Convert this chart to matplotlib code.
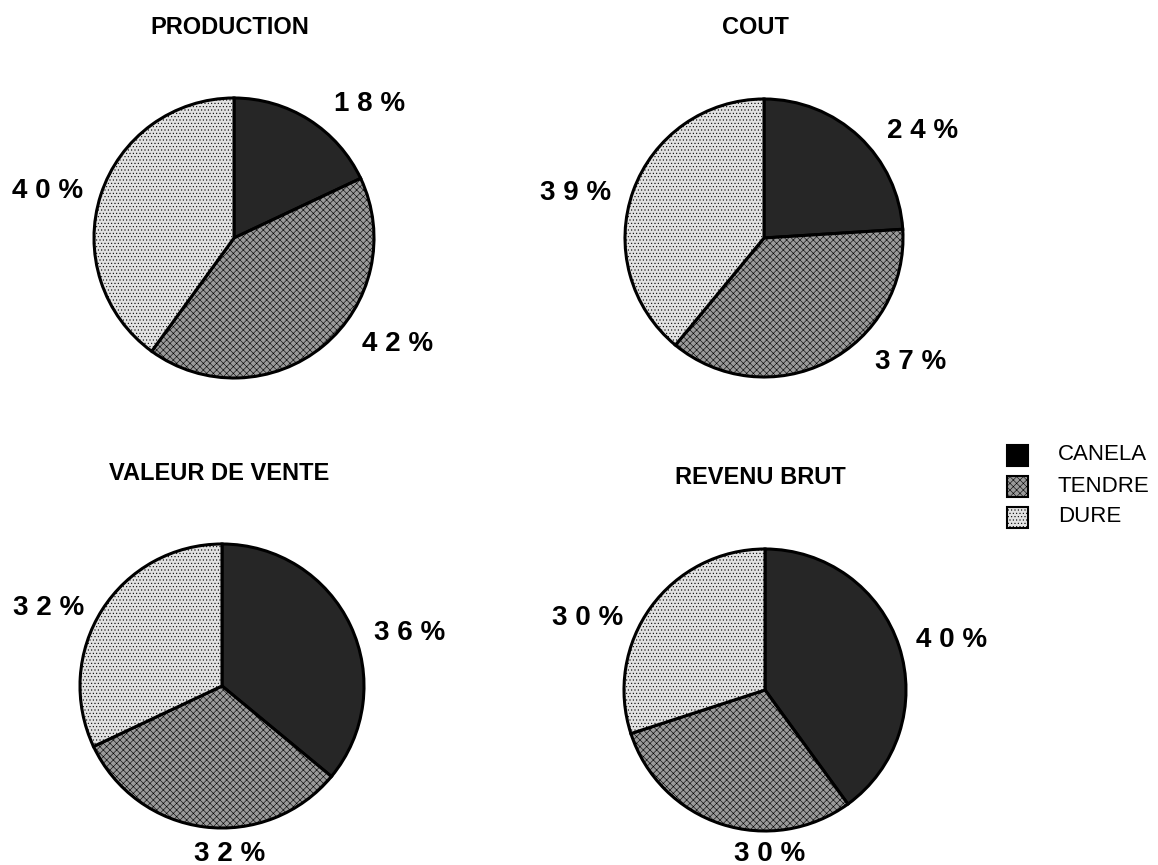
import matplotlib
matplotlib.use("Agg")
import matplotlib.pyplot as plt
from matplotlib.patches import Rectangle

# -------------------------------------------------
# data
# -------------------------------------------------
categories = ["CANELA", "TENDRE", "DURE"]
titles = ["PRODUCTION", "COUT", "VALEUR DE VENTE", "REVENU BRUT"]

production = [18, 42, 40]
cout = [24, 37, 39]
valeur_vente = [36, 32, 32]
revenu_brut = [40, 30, 30]

series = [production, cout, valeur_vente, revenu_brut]

# -------------------------------------------------
# layout (pixel coordinates, y measured from top)
# -------------------------------------------------
W, H = 1158, 865
centers = [(234, 238), (764, 238), (222, 686), (765, 690)]
radii = [140, 139, 142, 141]
title_pos = [(230, 27), (755, 28), (219, 474), (760, 477)]
label_pos = [
    [(370, 104), (398, 344), (48, 191)],
    [(923, 131), (911, 362), (576, 193)],
    [(410, 633), (230, 854), (49, 608)],
    [(952, 640), (770, 854), (588, 618)],
]
legend_x, legend_y, legend_step = 1007, 455, 31

colors = ["#262626", "#9a9a9a", "#e2e2e2"]
hatches = ["", "xxxxx", "....."]

plt.rcParams["hatch.linewidth"] = 0.4
plt.rcParams["hatch.color"] = "#4a4a4a"
FONT = ["Liberation Sans", "DejaVu Sans"]


def pct_text(v):
    return " ".join(str(v)) + " %"


fig = plt.figure(figsize=(W / 100, H / 100), dpi=100)
ax = fig.add_axes([0, 0, 1, 1])

for vals, (cx, cy), r, title, tpos, lpos in zip(series, centers, radii, titles, title_pos, label_pos):
    wedges, _ = ax.pie(
        vals,
        center=(cx, H - cy),
        radius=r,
        startangle=90,
        counterclock=False,
        colors=colors,
        wedgeprops=dict(edgecolor="black", linewidth=2.2),
        frame=True,
    )
    for w, h in zip(wedges, hatches):
        w.set_hatch(h)
    ax.text(tpos[0], H - tpos[1], title, ha="center", va="center",
            fontsize=17, fontweight="bold", family=FONT)
    for v, (lx, ly) in zip(vals, lpos):
        ax.text(lx, H - ly, pct_text(v), ha="center", va="center",
                fontsize=20, fontweight="bold", family=FONT)

ax.set_xlim(0, W)
ax.set_ylim(0, H)
ax.set_aspect("equal")
ax.axis("off")

# legend drawn as boxes + labels
box = 21
for i, (name, c, h) in enumerate(zip(categories, colors, hatches)):
    yc = H - (legend_y + i * legend_step)
    face = "black" if i == 0 else c
    ax.add_patch(Rectangle((legend_x, yc - box / 2), box, box, facecolor=face,
                           edgecolor="black", hatch=h, linewidth=1.5))
    ax.text(legend_x + 51, yc, name, ha="left", va="center",
            fontsize=16, family=FONT)

fig.savefig("out.png", dpi=100)
